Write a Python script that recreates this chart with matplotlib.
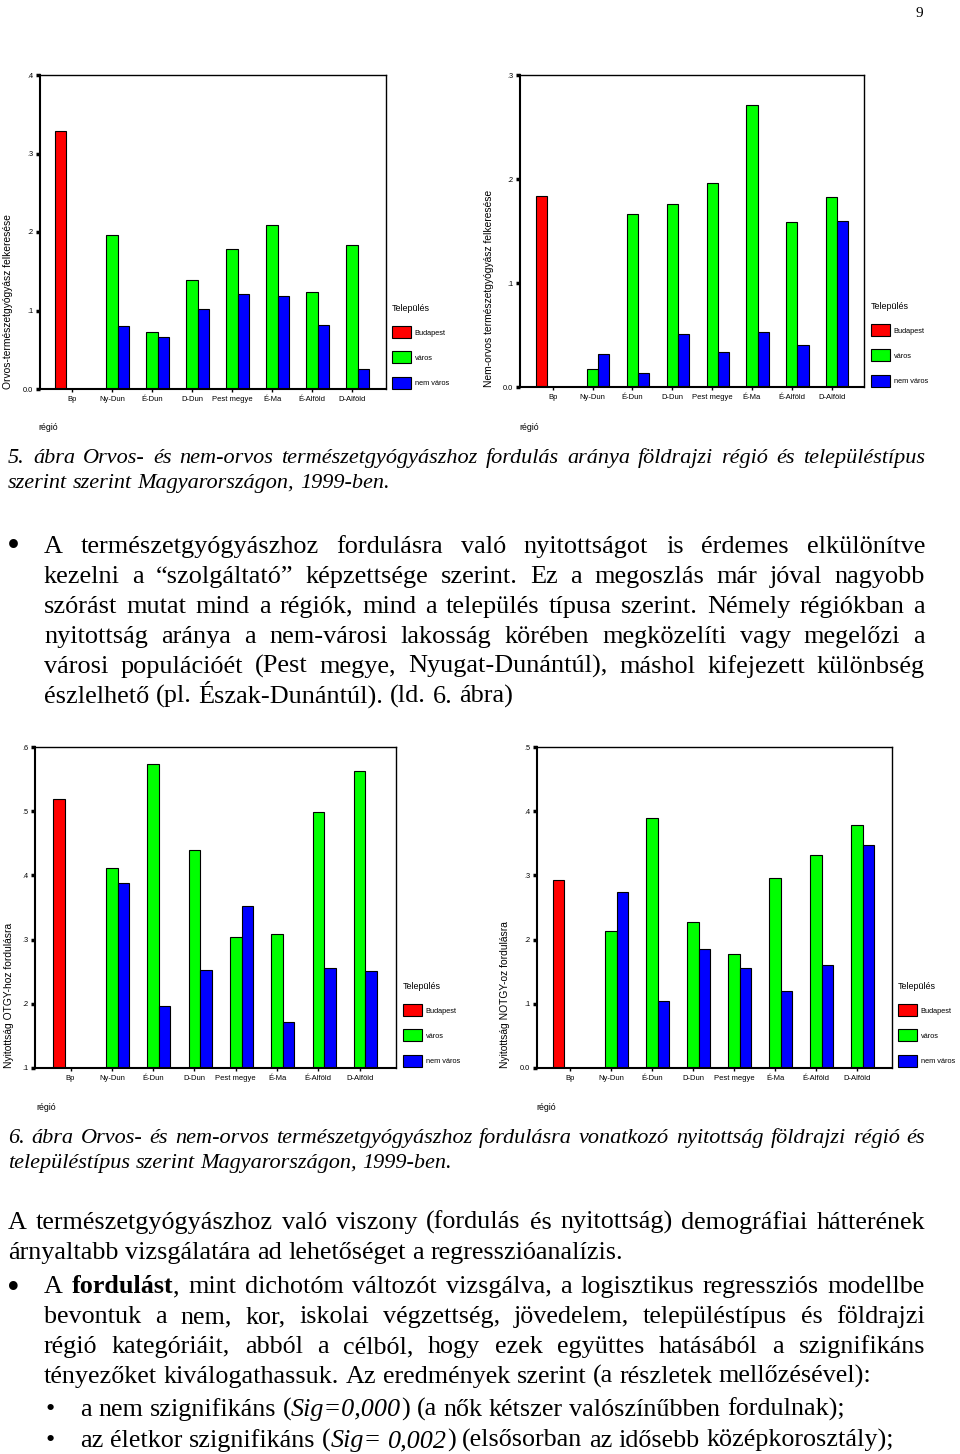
import re
import numpy as np
import matplotlib
matplotlib.use('Agg')
import matplotlib.pyplot as plt

W, H = 960, 1454
SERIF = 'Liberation Serif'
SANS = 'Liberation Sans'
nan = np.nan

# data
regions = ['Bp', 'Ny-Dun', 'É-Dun', 'D-Dun', 'Pest megye', 'É-Ma', 'É-Alföld', 'D-Alföld']
series_names = ['Budapest', 'város', 'nem város']
colors = ['#ff0000', '#00ff00', '#0000ff']

# 5. ábra, bal: orvos-természetgyógyász felkeresése
orvos_bp = [0.329, nan, nan, nan, nan, nan, nan, nan]
orvos_varos = [nan, 0.196, 0.073, 0.139, 0.178, 0.209, 0.124, 0.183]
orvos_nemvaros = [nan, 0.080, 0.066, 0.102, 0.121, 0.119, 0.081, 0.026]

# 5. ábra, jobb: nem-orvos természetgyógyász felkeresése
nemorvos_bp = [0.184, nan, nan, nan, nan, nan, nan, nan]
nemorvos_varos = [nan, 0.017, 0.166, 0.176, 0.196, 0.271, 0.159, 0.183]
nemorvos_nemvaros = [nan, 0.032, 0.013, 0.051, 0.034, 0.053, 0.040, 0.160]

# 6. ábra, bal: nyitottság OTGY-hoz fordulásra
otgy_bp = [0.519, nan, nan, nan, nan, nan, nan, nan]
otgy_varos = [nan, 0.411, 0.574, 0.439, 0.304, 0.308, 0.499, 0.563]
otgy_nemvaros = [nan, 0.388, 0.196, 0.253, 0.353, 0.172, 0.255, 0.251]

# 6. ábra, jobb: nyitottság NOTGY-oz fordulásra
notgy_bp = [0.293, nan, nan, nan, nan, nan, nan, nan]
notgy_varos = [nan, 0.213, 0.389, 0.228, 0.178, 0.296, 0.331, 0.379]
notgy_nemvaros = [nan, 0.274, 0.104, 0.185, 0.156, 0.120, 0.161, 0.347]

caption1 = ['5. ábra Orvos- és nem-orvos természetgyógyászhoz fordulás aránya földrajzi régió és településtípus',
            'szerint szerint Magyarországon, 1999-ben.']
para1 = ['A természetgyógyászhoz fordulásra való nyitottságot is érdemes elkülönítve',
         'kezelni a “szolgáltató” képzettsége szerint. Ez a megoszlás már jóval nagyobb',
         'szórást mutat mind a régiók, mind a település típusa szerint. Némely régiókban a',
         'nyitottság aránya a nem-városi lakosság körében megközelíti vagy megelőzi a',
         'városi populációét (Pest megye, Nyugat-Dunántúl), máshol kifejezett különbség',
         'észlelhető (pl. Észak-Dunántúl). (ld. 6. ábra)']
caption2 = ['6. ábra  Orvos- és nem-orvos természetgyógyászhoz fordulásra vonatkozó nyitottság földrajzi régió és',
            'településtípus szerint Magyarországon, 1999-ben.']
para2 = ['A természetgyógyászhoz való viszony (fordulás és nyitottság) demográfiai hátterének',
         'árnyaltabb vizsgálatára ad lehetőséget a regresszióanalízis.']
para3 = ['A **fordulást**, mint dichotóm változót vizsgálva, a logisztikus regressziós modellbe',
         'bevontuk a nem, kor, iskolai végzettség, jövedelem, településtípus és földrajzi',
         'régió kategóriáit, abból a célból, hogy ezek együttes hatásából a szignifikáns',
         'tényezőket kiválogathassuk. Az eredmények  szerint (a részletek mellőzésével):']
sub_items = ['a nem szignifikáns (*Sig=0,000*) (a nők kétszer valószínűbben fordulnak);',
             'az életkor szignifikáns (*Sig= 0,002*) (elsősorban az idősebb középkorosztály);']

fig = plt.figure(figsize=(W / 100, H / 100), dpi=100)
rend = fig.canvas.get_renderer()


def fpos(x, y):
    return x / W, 1 - y / H


def chart(box, bp, varos, nemvaros, ylim, yticks, ylabel, ylab_x, regio_xy, leg_xy, xlim):
    l, t, r, b = box
    ax = fig.add_axes([l / W, 1 - b / H, (r - l) / W, (b - t) / H])
    x = np.arange(len(regions))
    w = 0.28
    bars = []
    for vals, off, c, name in zip([bp, varos, nemvaros], [-w, 0, w], colors, series_names):
        bars.append(ax.bar(x + off, vals, w, color=c, edgecolor='black',
                           linewidth=0.8, label=name))
    ax.set_xlim(*xlim)
    ax.set_ylim(*ylim)
    ax.set_yticks(yticks)
    ax.set_yticklabels(['0.0' if v == 0 else f'{v:.1f}'.lstrip('0') for v in yticks],
                       fontsize=5.3, family=SANS)
    ax.set_xticks(x)
    ax.set_xticklabels(regions, fontsize=5.5, family=SANS)
    ax.tick_params(axis='y', length=3, width=2.5, pad=2)
    ax.tick_params(axis='x', length=2, width=1, pad=3)
    for s in ['left', 'bottom']:
        ax.spines[s].set_linewidth(1.5)
    for s in ['top', 'right']:
        ax.spines[s].set_linewidth(1.0)
    fig.text(*fpos(ylab_x, b), ylabel, rotation=90, ha='center', va='bottom',
             fontsize=7.4, family=SANS)
    fig.text(*fpos(*regio_xy), 'régió', ha='left', va='center', fontsize=6.3, family=SANS)
    leg = ax.legend(handles=bars, loc='upper left', bbox_to_anchor=fpos(*leg_xy),
                    bbox_transform=fig.transFigure, frameon=False, borderpad=0,
                    borderaxespad=0, title='Település', alignment='left',
                    prop={'family': SANS, 'size': 5.3}, handlelength=2.6,
                    handleheight=2.13, labelspacing=1.8, handletextpad=0.5)
    leg.get_title().set_fontsize(6.5)
    leg.get_title().set_family(SANS)
    return ax


chart((40, 75, 386, 389), orvos_bp, orvos_varos, orvos_nemvaros, (0, 0.4),
      [0, 0.1, 0.2, 0.3, 0.4], 'Orvos-természetgyógyász felkeresése', 8,
      (38, 428), (392, 304), (-0.8, 7.85))
chart((520, 75, 864, 387), nemorvos_bp, nemorvos_varos, nemorvos_nemvaros, (0, 0.3),
      [0, 0.1, 0.2, 0.3], 'Nem-orvos természetgyógyász felkeresése', 489,
      (519, 427), (871, 302), (-0.82, 7.81))
chart((35, 747, 396, 1068), otgy_bp, otgy_varos, otgy_nemvaros, (0.1, 0.6),
      [0.1, 0.2, 0.3, 0.4, 0.5, 0.6], 'Nyitottság OTGY-hoz fordulásra', 9,
      (36, 1108), (403, 982), (-0.86, 7.88))
chart((537, 747, 892, 1068), notgy_bp, notgy_varos, notgy_nemvaros, (0, 0.5),
      [0, 0.1, 0.2, 0.3, 0.4, 0.5], 'Nyitottság NOTGY-oz fordulásra', 505,
      (536, 1108), (898, 982), (-0.8, 7.85))


# ---- page text ----
def parse(line):
    words = [[]]
    bold = ital = False
    for part in re.split(r'(\*\*|\*)', line):
        if part == '**':
            bold = not bold
            continue
        if part == '*':
            ital = not ital
            continue
        for k, p in enumerate(part.split(' ')):
            if k > 0:
                words.append([])
            if p:
                words[-1].append((p, bold, ital))
    return [wd for wd in words if wd]


def width(s, size, italic=False, bold=False):
    t = fig.text(0, 0, s, fontsize=size, family=SERIF,
                 fontstyle='italic' if italic else 'normal',
                 fontweight='bold' if bold else 'normal')
    wd = t.get_window_extent(rend).width
    t.remove()
    return wd


def fit(sample, target, italic=False):
    return 10 * target / width(sample, 10, italic)


def put_line(line, x0, y, size, x1=None, italic=False):
    words = parse(line)
    objs, widths = [], []
    for word in words:
        segs, ww = [], 0
        for s, b, i in word:
            t = fig.text(0, 0, s, fontsize=size, family=SERIF, va='baseline', ha='left',
                         fontstyle='italic' if (i or italic) else 'normal',
                         fontweight='bold' if b else 'normal')
            sw = t.get_window_extent(rend).width
            segs.append((t, sw))
            ww += sw
        objs.append(segs)
        widths.append(ww)
    if x1 is not None and len(words) > 1:
        gap = (x1 - x0 - sum(widths)) / (len(words) - 1)
    else:
        gap = width('x x', size, italic) - width('xx', size, italic)
    x = x0
    for segs, ww in zip(objs, widths):
        xx = x
        for t, sw in segs:
            t.set_position(fpos(xx, y))
            xx += sw
        x += ww + gap


def paragraph(lines, x0, y0, step, size, italic=False, right=925):
    for k, line in enumerate(lines):
        last = k == len(lines) - 1
        put_line(line, x0, y0 + k * step, size, None if last else right, italic)


def bullet(x, y_mid, size):
    # the bullet glyph sits about 0.33 em above the baseline
    fig.text(*fpos(x, y_mid + 0.33 * size * 100 / 72), '•', fontsize=size,
             family=SERIF, ha='center', va='baseline')


cap_size = fit(caption1[1], 382, italic=True)
body_size = fit(para1[-1], 467)
low_size = fit(para2[-1], 614)

fig.text(*fpos(916, 17), '9', fontsize=11, family=SERIF, ha='left', va='baseline')

paragraph(caption1, 8, 463, 25, cap_size, italic=True)
bullet(13.5, 545, body_size * 1.4)
paragraph(para1, 44, 553, 30, body_size)
paragraph(caption2, 8, 1143, 25, cap_size, italic=True)
paragraph(para2, 8, 1229, 30, low_size)
bullet(13.5, 1286, low_size * 1.4)
paragraph(para3, 44, 1293, 30, low_size)
for k, item in enumerate(sub_items):
    base = 1416 + 31 * k
    fig.text(*fpos(50.5, base), '•', fontsize=low_size, family=SERIF,
             ha='center', va='baseline')
    put_line(item, 80, base, low_size)

fig.savefig('out.png', dpi=100)
